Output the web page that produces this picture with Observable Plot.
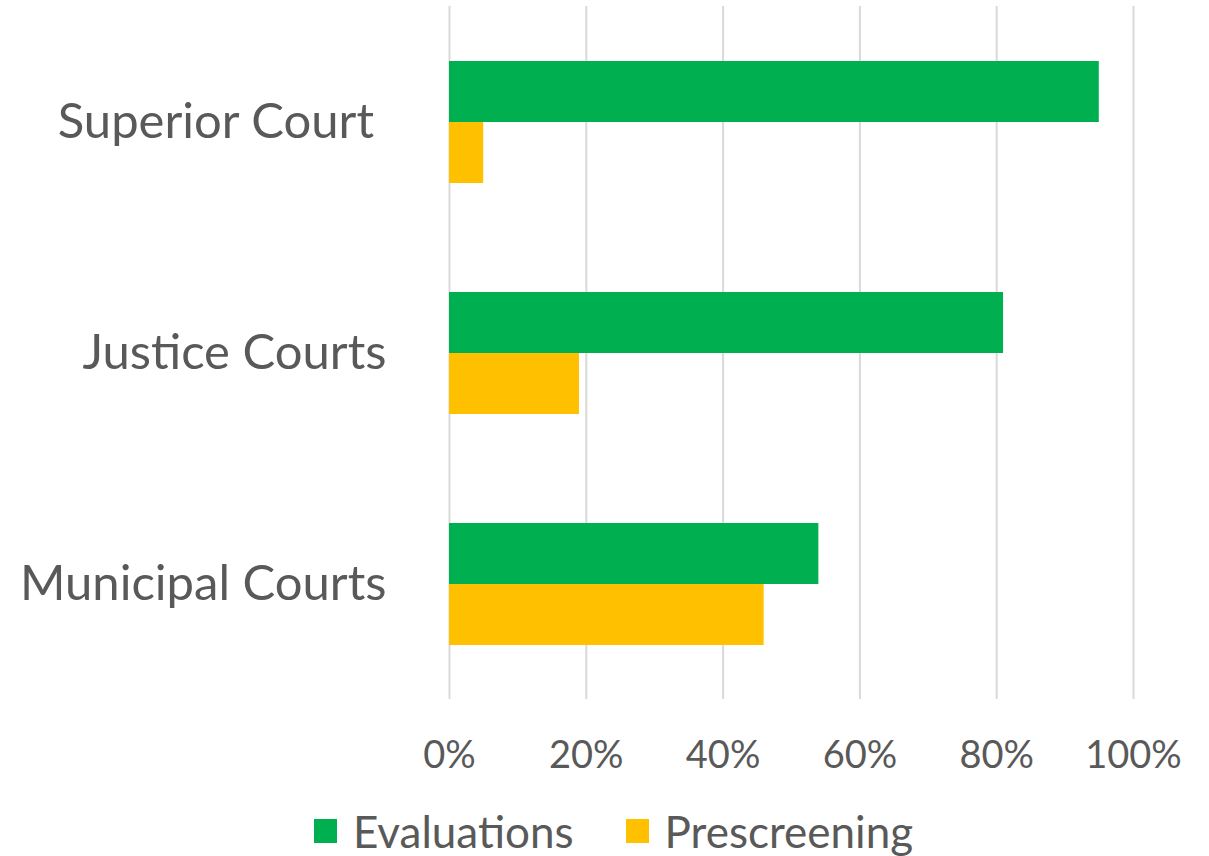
<!DOCTYPE html>
<html>
<head>
<meta charset="utf-8">
<script src="https://cdn.jsdelivr.net/npm/d3@7"></script>
<script src="https://cdn.jsdelivr.net/npm/@observablehq/plot@0.6"></script>
<style>
  html, body { margin: 0; padding: 0; background: #fff; }
  body { width: 1209px; height: 856px; overflow: hidden; font-family: Lato, "Open Sans", sans-serif; color: #595959; }
  #legend { display: flex; justify-content: center; align-items: center; gap: 0; margin-top: 17px; padding-left: 18px; font-size: 44px; line-height: 48px; }
  .item { display: flex; align-items: center; margin: 0 26px; }
  .swatch { width: 23px; height: 24px; margin-right: 16px; }
</style>
</head>
<body>
<div id="chart"></div>
<div id="legend"></div>
<script>
const courts = ["Superior Court", "Justice Courts", "Municipal Courts"];
const series = ["Evaluations", "Prescreening"];
const evaluations = [0.95, 0.81, 0.54];
const prescreening = [0.05, 0.19, 0.46];
const xTicks = [0, 0.2, 0.4, 0.6, 0.8, 1];
const colors = ["#00B050", "#FFC000"];

const data = courts.flatMap((c, i) => [
  {court: c, series: series[0], value: evaluations[i]},
  {court: c, series: series[1], value: prescreening[i]}
]);

const pct = d3.format(".0%");

const chart = Plot.plot({
  width: 1209,
  height: 790,
  marginLeft: 449,
  marginRight: 76,
  marginTop: 5,
  marginBottom: 90,
  style: {fontFamily: "Lato, 'Open Sans', sans-serif", color: "#595959", background: "#fff"},
  x: {domain: [0, 1]},
  y: {domain: series, axis: null, paddingInner: 0, paddingOuter: 0.88},
  fy: {domain: courts, padding: 0},
  color: {domain: series, range: colors},
  marks: [
    Plot.gridX(xTicks, {stroke: "#d9d9d9", strokeOpacity: 1, strokeWidth: 2}),
    Plot.barX(data, {x: "value", y: "series", fy: "court", fill: "series"}),
    Plot.axisX({ticks: xTicks, tickFormat: pct, tickSize: 0, tickPadding: 42, label: null, fontSize: 38}),
    Plot.axisFy({anchor: "left", tickSize: 0, tickPadding: 63, label: null, fontSize: 49,
      tickFormat: d => d === "Superior Court" ? d + "\u00a0" : d})
  ]
});
document.getElementById("chart").appendChild(chart);

const legend = document.getElementById("legend");
series.forEach((s, i) => {
  const item = document.createElement("div");
  item.className = "item";
  const sw = document.createElement("div");
  sw.className = "swatch";
  sw.style.background = colors[i];
  const label = document.createElement("span");
  label.textContent = s;
  item.appendChild(sw);
  item.appendChild(label);
  legend.appendChild(item);
});
</script>
</body>
</html>
